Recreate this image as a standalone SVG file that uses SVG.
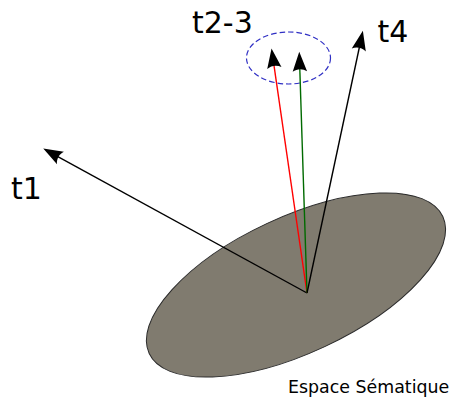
<svg xmlns="http://www.w3.org/2000/svg" width="450" height="400" viewBox="0 0 450 400">
<style>
.lbl{font-family:"DejaVu Sans",sans-serif;fill:#000}
.vec{fill:none;stroke-width:1.4}
</style>
<defs>
<marker id="ahK" markerUnits="userSpaceOnUse" markerWidth="24" markerHeight="20" viewBox="-20 -8 22 16" refX="-10" refY="0" orient="auto" overflow="visible">
<path d="M0,0 L-18,-6.6 C-15.2,-2.7 -15.2,2.7 -18,6.6 Z" fill="#000"/>
</marker>
</defs>
<g id="plane">
<ellipse cx="296" cy="285" rx="162" ry="68" transform="rotate(-25 296 285)" fill="#807b6f" stroke="#2a2a2a" stroke-width="1"/>
</g>
<g id="cluster">
<ellipse cx="288.5" cy="58" rx="42" ry="26" fill="none" stroke="#2f2fc4" stroke-width="1.2" stroke-dasharray="5.5,3"/>
</g>
<g id="connectors">
<line class="vec" x1="307" y1="293" x2="52.8" y2="153.8" stroke="#000" marker-end="url(#ahK)"/>
<line class="vec" x1="307" y1="293" x2="273.1" y2="59.4" stroke="#ff0000" marker-end="url(#ahK)"/>
<line class="vec" x1="307" y1="293" x2="299.6" y2="62.7" stroke="#006a00" marker-end="url(#ahK)"/>
<line class="vec" x1="307" y1="293" x2="360.6" y2="41.5" stroke="#000" marker-end="url(#ahK)"/>
</g>
<g id="t1"><text class="lbl" x="11" y="198.5" font-size="30">t1</text></g>
<g id="t2-3"><text class="lbl" x="192" y="32.5" font-size="30">t2-3</text></g>
<g id="t4"><text class="lbl" x="377.5" y="41.5" font-size="30">t4</text></g>
<g id="label"><text class="lbl" x="288" y="393" font-size="17.4">Espace Sématique</text></g>
</svg>
